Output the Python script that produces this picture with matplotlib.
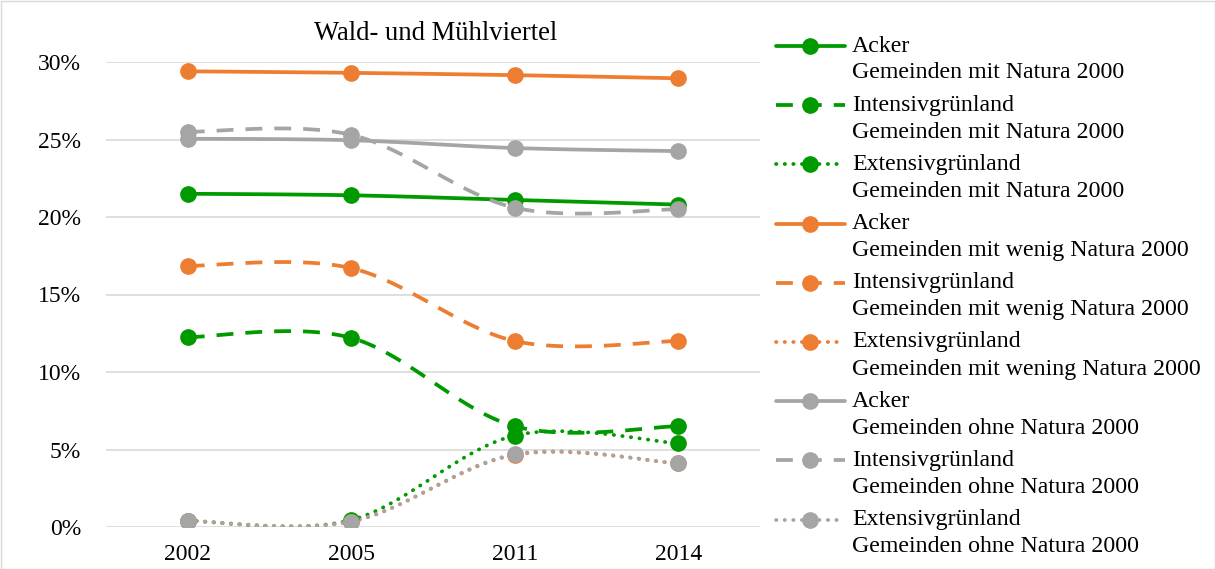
import numpy as np
import matplotlib
matplotlib.use("Agg")
import matplotlib.pyplot as plt
from matplotlib.lines import Line2D
from matplotlib.patches import Rectangle
from matplotlib.ticker import FuncFormatter

plt.rcParams['font.family'] = ['Liberation Serif', 'DejaVu Serif']

years = ['2002', '2005', '2011', '2014']

# shares in percent
acker_mit = [21.5, 21.4, 21.1, 20.8]
intensiv_mit = [12.25, 12.2, 6.5, 6.5]
extensiv_mit = [0.4, 0.45, 5.9, 5.4]
acker_wenig = [29.4, 29.3, 29.15, 28.95]
intensiv_wenig = [16.85, 16.7, 12.0, 12.0]
extensiv_wenig = [0.4, 0.35, 4.65, 4.1]
acker_ohne = [25.05, 24.95, 24.45, 24.25]
intensiv_ohne = [25.5, 25.3, 20.6, 20.5]
extensiv_ohne = [0.4, 0.35, 4.7, 4.1]

labels = [
    ('Acker', 'Gemeinden mit Natura 2000'),
    ('Intensivgrünland', 'Gemeinden mit Natura 2000'),
    ('Extensivgrünland', 'Gemeinden mit Natura 2000'),
    ('Acker', 'Gemeinden mit wenig Natura 2000'),
    ('Intensivgrünland', 'Gemeinden mit wenig Natura 2000'),
    ('Extensivgrünland', 'Gemeinden mit wening Natura 2000'),
    ('Acker', 'Gemeinden ohne Natura 2000'),
    ('Intensivgrünland', 'Gemeinden ohne Natura 2000'),
    ('Extensivgrünland', 'Gemeinden ohne Natura 2000'),
]

GREEN = '#009A00'
ORANGE = '#ED7D31'
GRAY = '#A5A5A5'

series = [
    (acker_mit, GREEN, 'solid'),
    (intensiv_mit, GREEN, 'dash'),
    (extensiv_mit, GREEN, 'dot'),
    (acker_wenig, ORANGE, 'solid'),
    (intensiv_wenig, ORANGE, 'dash'),
    (extensiv_wenig, ORANGE, 'dot'),
    (acker_ohne, GRAY, 'solid'),
    (intensiv_ohne, GRAY, 'dash'),
    (extensiv_ohne, GRAY, 'dot'),
]


def smooth(x, y, n=40):
    # excel-like smoothed line (bezier through the points)
    x = np.asarray(x, float)
    y = np.asarray(y, float)
    px = np.concatenate([[x[0]], x, [x[-1]]])
    py = np.concatenate([[y[0]], y, [y[-1]]])
    t = np.linspace(0, 1, n)[:, None]
    out = []
    for i in range(len(x) - 1):
        p0 = np.array([px[i + 1], py[i + 1]])
        p3 = np.array([px[i + 2], py[i + 2]])
        c1 = p0 + (np.array([px[i + 2], py[i + 2]]) - np.array([px[i], py[i]])) / 6
        c2 = p3 - (np.array([px[i + 3], py[i + 3]]) - np.array([px[i + 1], py[i + 1]])) / 6
        seg = ((1 - t) ** 3) * p0 + 3 * ((1 - t) ** 2) * t * c1 + 3 * (1 - t) * t ** 2 * c2 + t ** 3 * p3
        out.append(seg if i == 0 else seg[1:])
    seg = np.vstack(out)
    return seg[:, 0], seg[:, 1]


def style_kw(style):
    if style == 'dash':
        return dict(linestyle=(0, (4.5, 3.2)), dash_capstyle='butt')
    if style == 'dot':
        return dict(linestyle=(0, (0.1, 2.2)), dash_capstyle='round')
    return dict(linestyle='-', solid_capstyle='round')


W, H = 1215, 569
fig = plt.figure(figsize=(W / 100, H / 100), dpi=100)
ax = fig.add_axes([106 / W, 1 - 527 / H, (760 - 106) / W, (527 - 62) / H])

xs = np.arange(len(years))
LW = 2.7
MS = 11
for vals, color, style in series:
    sx, sy = smooth(xs, vals)
    ax.plot(sx, sy, color=color, lw=LW, **style_kw(style), zorder=3)
    ax.plot(xs, vals, 'o', color=color, markersize=MS, zorder=4)

ax.set_xlim(-0.5, 3.5)
ax.set_ylim(0, 30)
ax.set_yticks([0, 5, 10, 15, 20, 25, 30])
ax.yaxis.set_major_formatter(FuncFormatter(lambda v, p: f'{v:.0f}%'))
ax.set_xticks(xs)
ax.set_xticklabels(years)
ax.tick_params(axis='both', length=0, labelsize=17, colors='black')
ax.tick_params(axis='y', pad=18)
ax.tick_params(axis='x', pad=12)
ax.grid(axis='y', color='#D9D9D9', lw=1.2, zorder=0)
for s in ax.spines.values():
    s.set_visible(False)
ax.set_axisbelow(True)

fig.text(436 / W, 1 - 33 / H, 'Wald- und Mühlviertel', ha='center', va='center', fontsize=19.2)

# legend drawn by hand so the handle sits on the first text line
y0 = 46
step = 59.2
for i, ((vals, color, style), (l1, l2)) in enumerate(zip(series, labels)):
    yc = 1 - (y0 + i * step) / H
    fig.add_artist(Line2D([776 / W, 845 / W], [yc, yc], transform=fig.transFigure,
                          color=color, lw=LW, **style_kw(style)))
    fig.add_artist(Line2D([810 / W], [yc], transform=fig.transFigure, marker='o',
                          color=color, markersize=MS, linestyle='none'))
    fig.text(852 / W, yc, l1, ha='left', va='center', fontsize=17.2)
    fig.text(852 / W, yc - 27 / H, l2, ha='left', va='center', fontsize=17.2)

fig.add_artist(Rectangle((0.5 / W, 0.5 / H), 1 - 1 / W, 1 - 1 / H, transform=fig.transFigure,
                         fill=False, edgecolor='#D9D9D9', lw=1))

fig.savefig('out.png', dpi=100)
